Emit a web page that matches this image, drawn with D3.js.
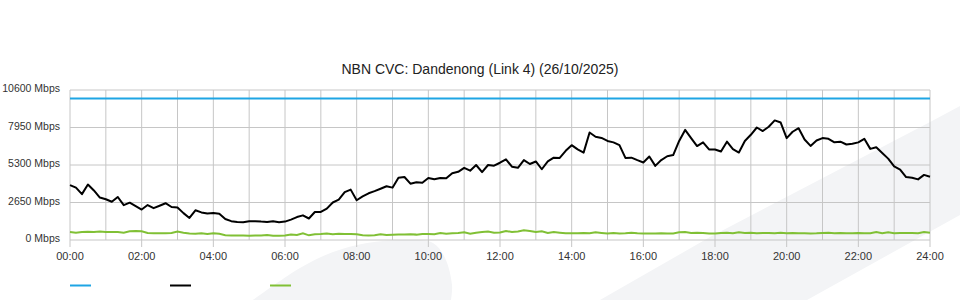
<!DOCTYPE html>
<html>
<head>
<meta charset="utf-8">
<script src="https://cdn.jsdelivr.net/npm/d3@7"></script>
<style>
  body { margin: 0; background: #fff; }
  text { font-family: "Liberation Sans", Arial, sans-serif; fill: #333; }
</style>
</head>
<body>
<div id="chart"></div>
<script>
var svgWidth = 960;
var svgHeight = 300;

var margin = { top: 90, right: 30, bottom: 60, left: 70 };
var width = svgWidth - margin.left - margin.right;
var height = svgHeight - margin.top - margin.bottom;

var chartTitle = "NBN CVC: Dandenong (Link 4) (26/10/2025)";

// samples every 10 minutes, 00:00 -> 24:00
var stepMinutes = 10;

// link capacity (blue)
var capacityMbps = 10000;

// inbound traffic (black), Mbps
var inbound = [
  3880, 3700, 3240, 3920, 3500, 3000,
  2880, 2700, 3040, 2460, 2640, 2400,
  2150, 2470, 2250, 2420, 2600, 2330,
  2290, 1900, 1560, 2100, 1950, 1870,
  1900, 1850, 1480, 1330, 1266, 1260,
  1320, 1330, 1300, 1280, 1320, 1260,
  1300, 1440, 1620, 1740, 1520, 1980,
  1980, 2220, 2650, 2850, 3380, 3560,
  2810, 3080, 3300, 3450, 3620, 3800,
  3700, 4400, 4450, 3980, 4080, 4050,
  4380, 4300, 4380, 4360, 4720, 4820,
  5100, 4900, 5300, 4800, 5300, 5250,
  5460, 5700, 5180, 5100, 5650, 5370,
  5550, 5000, 5550, 5820, 5800, 6300,
  6700, 6400, 6175, 7600, 7300, 7210,
  7000, 6900, 6700, 5800, 5820, 5640,
  5480, 5900, 5240, 5650, 5920, 6000,
  7000, 7780, 7200, 6640, 6900, 6400,
  6400, 6250, 6950, 6420, 6180, 7000,
  7434, 7950, 7700, 8000, 8450, 8300,
  7200, 7650, 7900, 7100, 6650, 7028,
  7200, 7150, 6900, 6950, 6750, 6800,
  6900, 7150, 6440, 6550, 6150, 5750,
  5200, 4980, 4450, 4400, 4283, 4600,
  4470
];

// outbound traffic (green), Mbps
var outbound = [
  560, 520, 560, 590, 560, 600,
  570, 560, 560, 520, 620, 630,
  610, 500, 480, 480, 480, 490,
  600, 520, 460, 440, 470, 430,
  470, 440, 330, 310, 310, 310,
  300, 320, 310, 350, 300, 300,
  320, 380, 360, 470, 330, 400,
  420, 460, 410, 440, 420, 430,
  400, 330, 320, 330, 400, 360,
  370, 380, 380, 400, 380, 420,
  430, 400, 490, 440, 470, 500,
  540, 450, 520, 560, 600, 520,
  530, 640, 560, 600, 680, 640,
  560, 620, 500, 560, 520, 480,
  470, 470, 500, 470, 540, 500,
  460, 490, 460, 470, 510, 470,
  460, 460, 460, 470, 460, 460,
  540, 560, 500, 510, 500, 460,
  460, 500, 510, 470, 540, 500,
  520, 480, 500, 500, 470, 510,
  470, 500, 480, 480, 460, 470,
  500, 520, 480, 500, 480, 480,
  500, 470, 470, 560, 480, 540,
  480, 490, 490, 490, 480, 560,
  510
];

var yTicks = [0, 2650, 5300, 7950, 10600];
var xTickLabels = ["00:00", "02:00", "04:00", "06:00", "08:00", "10:00", "12:00",
  "14:00", "16:00", "18:00", "20:00", "22:00", "24:00"];

var colors = { capacity: "#1ea5e4", inbound: "#000000", outbound: "#80c035" };

var svg = d3.select("#chart")
  .append("svg")
  .attr("width", svgWidth)
  .attr("height", svgHeight);

// faint watermark swooshes in the background
var swoosh = d3.line().curve(d3.curveCatmullRom);
svg.append("path")
  .attr("d", swoosh([[253, 300], [300, 268], [333, 252], [367, 243], [407, 240],
    [433, 243], [445, 258], [452, 285], [451, 300]]) + "Z")
  .attr("fill", "#f3f4f6");
svg.append("path")
  .attr("d", "M600,300L710,237L932,121L960,106L960,215L807,300Z")
  .attr("fill", "#f3f4f6");

var chartGroup = svg.append("g")
  .attr("transform", `translate(${margin.left}, ${margin.top})`);

var xScale = d3.scaleLinear().domain([0, 24]).range([0, width]);
var yScale = d3.scaleLinear().domain([0, 10600]).range([height, 0]);

// grid
var grid = chartGroup.append("g").attr("stroke", "#c6c6c6").attr("stroke-width", 1);
grid.selectAll(".vgrid")
  .data(d3.range(0, 25))
  .enter()
  .append("line")
  .attr("x1", d => xScale(d))
  .attr("x2", d => xScale(d))
  .attr("y1", 0)
  .attr("y2", d => d % 2 === 0 ? height + 7 : height);
grid.selectAll(".hgrid")
  .data(yTicks)
  .enter()
  .append("line")
  .attr("x1", 0)
  .attr("x2", width)
  .attr("y1", d => yScale(d))
  .attr("y2", d => yScale(d));

// y labels
chartGroup.selectAll(".ylabel")
  .data(yTicks)
  .enter()
  .append("text")
  .attr("x", -10)
  .attr("y", d => yScale(d) + 2)
  .attr("text-anchor", "end")
  .attr("font-size", 10.5)
  .text(d => d + " Mbps");

// x labels
chartGroup.selectAll(".xlabel")
  .data(xTickLabels)
  .enter()
  .append("text")
  .attr("x", (d, i) => xScale(i * 2))
  .attr("y", height + 20)
  .attr("text-anchor", "middle")
  .attr("font-size", 11)
  .text(d => d);

// title
svg.append("text")
  .attr("x", svgWidth / 2)
  .attr("y", 74)
  .attr("text-anchor", "middle")
  .attr("font-size", 14)
  .style("fill", "#222")
  .text(chartTitle);

var line = d3.line()
  .x((d, i) => xScale(i * stepMinutes / 60))
  .y(d => yScale(d));

// capacity
chartGroup.append("line")
  .attr("x1", xScale(0))
  .attr("x2", xScale(24))
  .attr("y1", yScale(capacityMbps))
  .attr("y2", yScale(capacityMbps))
  .attr("stroke", colors.capacity)
  .attr("stroke-width", 2);

chartGroup.append("path")
  .datum(outbound)
  .attr("d", line)
  .attr("fill", "none")
  .attr("stroke", colors.outbound)
  .attr("stroke-width", 2);

chartGroup.append("path")
  .datum(inbound)
  .attr("d", line)
  .attr("fill", "none")
  .attr("stroke", colors.inbound)
  .attr("stroke-width", 2)
  .attr("stroke-linejoin", "round");

// legend (swatches only, no labels)
var legendItems = ["capacity", "inbound", "outbound"];
svg.selectAll(".legend")
  .data(legendItems)
  .enter()
  .append("line")
  .attr("x1", (d, i) => margin.left + i * 100)
  .attr("x2", (d, i) => margin.left + i * 100 + 21)
  .attr("y1", 285.5)
  .attr("y2", 285.5)
  .attr("stroke", d => colors[d])
  .attr("stroke-width", 2);
</script>
</body>
</html>
